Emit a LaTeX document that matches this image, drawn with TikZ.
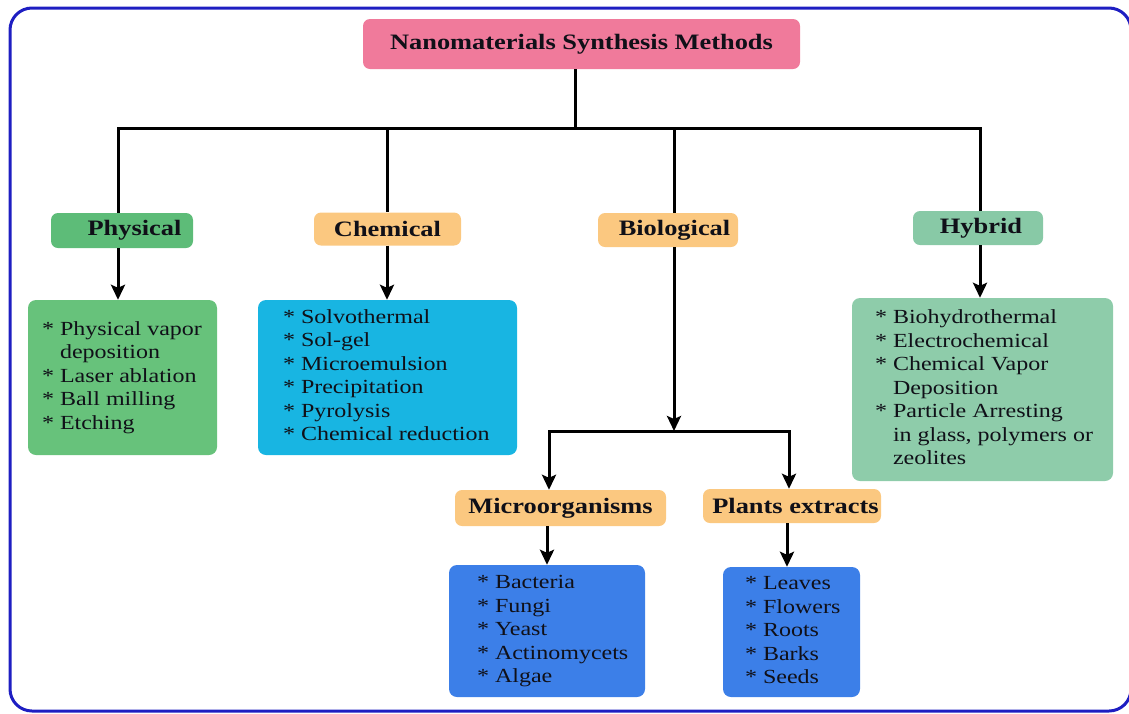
\documentclass[tikz,border=0pt]{standalone}
\usepackage{fontspec}
\setmainfont{Liberation Serif}[FakeStretch=1.2]
\usetikzlibrary{arrows.meta}
\definecolor{frameblue}{HTML}{1E1EC2}
\definecolor{titlepink}{HTML}{F07A9B}
\definecolor{physgreen}{HTML}{5DBC78}
\definecolor{physlist}{HTML}{67C27B}
\definecolor{chemorange}{HTML}{FBC880}
\definecolor{chemcyan}{HTML}{18B5E2}
\definecolor{bioblue}{HTML}{3C7FE8}
\definecolor{hybteal}{HTML}{88C9A6}
\definecolor{hyblist}{HTML}{8ECCAA}
\definecolor{inktext}{HTML}{101018}
\newcommand\itemlist[3]{\makebox[#1][l]{\hspace{#2}\begin{tabular}{@{}l@{\ }l@{}}#3\end{tabular}}}
\newcommand\bul{{*}}
\tikzset{
  hdr/.style={rounded corners=7pt, inner sep=0pt, text=inktext,
    font=\fontsize{22}{26}\selectfont\bfseries},
  lst/.style={rounded corners=8pt, inner sep=0pt, text=inktext,
    font=\fontsize{20}{23.5}\selectfont},
  conn/.style={line width=3pt, black},
  arr/.style={conn, -{Stealth[length=15pt,width=14pt,inset=3pt]}},
  frm/.style={line width=3pt, frameblue, rounded corners=22pt}
}
\begin{document}
\begin{tikzpicture}[x=1pt,y=-1pt]
\useasboundingbox (0,0) rectangle (1129,713);
\draw[frm] (10,8) rectangle (1131,711);

% title
\node[hdr, fill=titlepink, minimum width=437pt, minimum height=50pt] (title) at (581.5,44) {Nanomaterials Synthesis Methods};

% headers
\node[hdr, fill=physgreen, minimum width=142pt, minimum height=35pt] (phys) at (122,230.5) {\hspace*{25pt}Physical};
\node[hdr, fill=chemorange, minimum width=147pt, minimum height=33pt] (chem) at (387.5,229) {Chemical};
\node[hdr, fill=chemorange, minimum width=140pt, minimum height=34pt] (bio) at (668,230) {\hspace*{13pt}Biological};
\node[hdr, fill=hybteal, minimum width=130pt, minimum height=34pt] (hyb) at (978,228) {\hspace*{6pt}Hybrid};
\node[hdr, fill=chemorange, minimum width=211pt, minimum height=36pt] (micro) at (560.5,508) {Microorganisms};
\node[hdr, fill=chemorange, minimum width=178pt, minimum height=34pt] (plant) at (792,506) {\hspace*{7pt}Plants extracts};

% lists
\node[lst, fill=physlist, minimum height=155pt] (physL) at (122.5,377.5)
  {\itemlist{189pt}{14pt}{\bul & Physical vapor\\ & deposition\\ \bul & Laser ablation\\ \bul & Ball milling\\ \bul & Etching}};
\node[lst, fill=chemcyan, minimum height=155pt] (chemL) at (387.5,377.5)
  {\itemlist{259pt}{25pt}{\bul & Solvothermal\\ \bul & Sol-gel\\ \bul & Microemulsion\\ \bul & Precipitation\\ \bul & Pyrolysis\\ \bul & Chemical reduction}};
\node[lst, fill=hyblist, minimum height=183pt] (hybL) at (982.5,389.5)
  {\itemlist{261pt}{23pt}{\bul & Biohydrothermal\\ \bul & Electrochemical\\ \bul & Chemical Vapor\\ & Deposition\\ \bul & Particle Arresting\\ & in glass, polymers or\\ & zeolites}};
\node[lst, fill=bioblue, minimum height=132pt] (microL) at (547,631)
  {\itemlist{196pt}{28pt}{\bul & Bacteria\\ \bul & Fungi\\ \bul & Yeast\\ \bul & Actinomycets\\ \bul & Algae}};
\node[lst, fill=bioblue, minimum height=130pt] (plantL) at (791.5,632)
  {\itemlist{137pt}{22pt}{\bul & Leaves\\ \bul & Flowers\\ \bul & Roots\\ \bul & Barks\\ \bul & Seeds}};

% junction coordinates
\coordinate (trunk) at (575,128);
\coordinate (jPhy) at (118,128);
\coordinate (jChe) at (387,128);
\coordinate (jBio) at (674,128);
\coordinate (jHyb) at (980,128);
\coordinate (bJn) at (674,431);
\coordinate (bL) at (549,431);
\coordinate (bR) at (789,431);
\coordinate (pX) at (787,0);

% connectors
\draw[conn] (title.south -| trunk) -- (trunk);
\draw[conn, line cap=rect] (jPhy) -- (jHyb);
\draw[conn] (jPhy) -- (jPhy |- phys.north);
\draw[conn] (jChe) -- (jChe |- chem.north);
\draw[conn] (jBio) -- (jBio |- bio.north);
\draw[conn] (jHyb) -- (jHyb |- hyb.north);

\draw[arr] (jPhy |- phys.south) -- (jPhy |- physL.north);
\draw[arr] (jChe |- chem.south) -- (jChe |- chemL.north);
\draw[arr] (jHyb |- hyb.south) -- (jHyb |- hybL.north);
\draw[arr] (jBio |- bio.south) -- (bJn);
\draw[conn, line cap=rect] (bL) -- (bR);
\draw[arr] (bL) -- (bL |- micro.north);
\draw[arr] (bR) -- (bR |- plant.north);
\draw[arr] (micro.south -| microL.north) -- (microL.north);
\draw[arr] (pX |- plant.south) -- (pX |- plantL.north);
\end{tikzpicture}
\end{document}
